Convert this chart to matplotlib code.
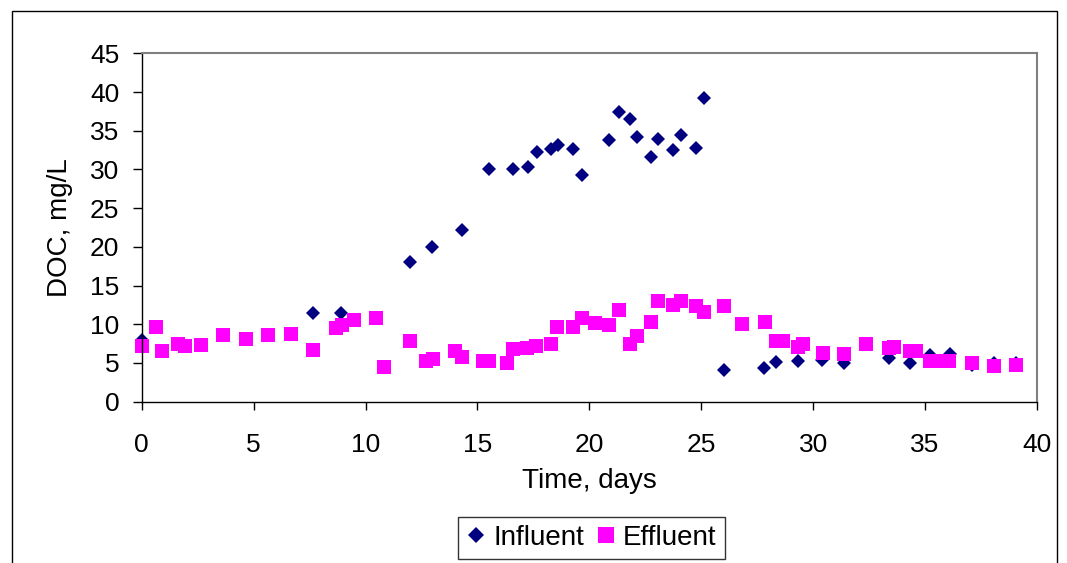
import matplotlib
matplotlib.use("Agg")
import matplotlib.pyplot as plt
from matplotlib.patches import Rectangle

# influent DOC
influent_days = [0.0, 7.66, 8.9, 11.98, 12.99, 14.29, 15.52, 16.59, 17.26, 17.66,
                 18.27, 18.6, 19.27, 19.67, 20.86, 21.31, 21.8, 22.13, 22.74, 23.06,
                 23.73, 24.08, 24.75, 25.1, 26.0, 27.8, 28.35, 29.31, 30.38, 31.37,
                 33.38, 34.33, 35.2, 36.1, 37.08, 38.1, 39.06]
influent_doc = [8.0, 11.5, 11.5, 18.1, 20.0, 22.2, 30.1, 30.0, 30.3, 32.3,
                32.7, 33.1, 32.7, 29.3, 33.8, 37.4, 36.5, 34.2, 31.6, 33.9,
                32.5, 34.4, 32.8, 39.2, 4.1, 4.4, 5.1, 5.3, 5.4, 5.0,
                5.6, 5.0, 6.0, 6.2, 4.8, 5.0, 5.0]

# effluent DOC
effluent_days = [0.0, 0.64, 0.92, 1.64, 1.93, 2.65, 3.64, 4.64, 5.64, 6.65,
                 7.66, 8.7, 8.93, 9.48, 10.47, 10.82, 11.98, 12.72, 13.02, 13.99,
                 14.29, 15.25, 15.52, 16.34, 16.59, 17.23, 17.63, 18.27, 18.57, 19.27,
                 19.67, 20.27, 20.86, 21.31, 21.8, 22.13, 22.74, 23.06, 23.73, 24.08,
                 24.75, 25.1, 26.0, 26.83, 27.83, 28.35, 28.64, 29.34, 29.54, 30.43,
                 31.37, 32.37, 33.38, 33.59, 34.33, 34.6, 35.22, 35.64, 36.09, 37.08,
                 38.06, 39.06]
effluent_doc = [7.2, 9.6, 6.5, 7.4, 7.2, 7.3, 8.6, 8.1, 8.6, 8.7,
                6.7, 9.5, 9.9, 10.6, 10.8, 4.5, 7.9, 5.2, 5.5, 6.5,
                5.8, 5.3, 5.2, 5.0, 6.8, 7.0, 7.2, 7.5, 9.6, 9.6,
                10.8, 10.2, 9.9, 11.8, 7.4, 8.5, 10.3, 13.0, 12.5, 13.0,
                12.4, 11.6, 12.4, 10.0, 10.3, 7.8, 7.8, 7.1, 7.5, 6.25,
                6.2, 7.45, 6.9, 7.1, 6.5, 6.55, 5.25, 5.25, 5.25, 5.0,
                4.6, 4.8]

x_ticks = list(range(0, 41, 5))
y_ticks = list(range(0, 46, 5))

plt.rcParams['font.family'] = ['Liberation Sans', 'DejaVu Sans']
plt.rcParams['font.size'] = 20

fig = plt.figure(figsize=(10.67, 5.63), dpi=100)
ax = fig.add_axes([0.1328, 0.2865, 0.8391, 0.6188])

# outer chart border
fig.patches.append(Rectangle((0.0112, -0.05), 0.9794, 1.031, transform=fig.transFigure,
                             fill=False, edgecolor='black', linewidth=1.0))

ax.plot(influent_days, influent_doc, linestyle='none', marker='D', markersize=7.3,
        color='#000080', markeredgewidth=0, label='Influent', clip_on=False)
ax.plot(effluent_days, effluent_doc, linestyle='none', marker='s', markersize=10.6,
        color='#FF00FF', markeredgewidth=0, label='Effluent', clip_on=False)

ax.set_xlim(0, 40)
ax.set_ylim(0, 45)
ax.set_xticks(x_ticks)
ax.set_yticks(y_ticks)
ax.tick_params(axis='x', direction='out', length=5.5, width=1, pad=17, labelsize=19)
ax.tick_params(axis='y', direction='out', length=6.5, width=1, pad=9.5, labelsize=19)

for side in ['top', 'right']:
    ax.spines[side].set_color('#808080')
    ax.spines[side].set_linewidth(1.5)
for side in ['left', 'bottom']:
    ax.spines[side].set_color('black')
    ax.spines[side].set_linewidth(1.0)

ax.set_xlabel('Time, days', va='center')
ax.xaxis.set_label_coords(0.5, -0.2276)
ax.set_ylabel('DOC, mg/L', va='center')
ax.yaxis.set_label_coords(-0.0913, 0.5)

leg = fig.legend(loc='center', bbox_to_anchor=(0.5544, 0.0444), ncol=2, frameon=True,
                 fancybox=False, edgecolor='black', handlelength=0.7, handletextpad=0.26,
                 columnspacing=0.44, borderpad=0.3, borderaxespad=0, fontsize=20,
                 markerscale=1.15)
leg.get_frame().set_linewidth(1.0)

fig.savefig('out.png', dpi=100)
